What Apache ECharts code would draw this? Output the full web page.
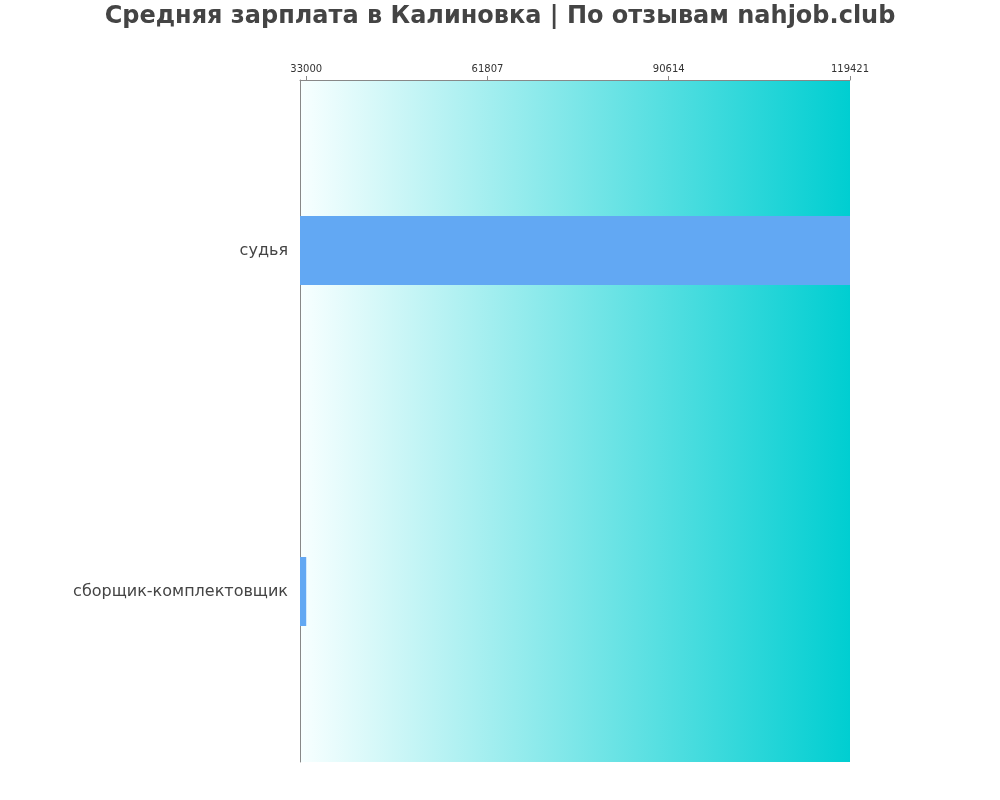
<!DOCTYPE html>
<html>
<head>
<meta charset="utf-8">
<script src="https://cdn.jsdelivr.net/npm/echarts@6/dist/echarts.min.js"></script>
<style>
  html, body { margin: 0; padding: 0; background: #fff; }
  #chart { width: 1000px; height: 800px; }
</style>
</head>
<body>
<div id="chart"></div>
<script>
var titleText = 'Средняя зарплата в Калиновка | По отзывам nahjob.club';
var professions = ['судья', 'сборщик-комплектовщик'];
var salaries = [119421, 33000];
var tickValues = [33000, 61807, 90614, 119421];
var axisMin = 32010;
var axisMax = 119421;

var chart = echarts.init(document.getElementById('chart'));

chart.setOption({
    animation: false,
    title: {
        text: titleText,
        left: 'center',
        top: 0,
        textStyle: {
            fontFamily: 'DejaVu Sans',
            fontSize: 24,
            fontWeight: 'bold',
            color: '#444'
        }
    },
    grid: {
        left: 300,
        right: 150,
        top: 80,
        bottom: 38,
        show: true,
        borderWidth: 0,
        backgroundColor: {
            type: 'linear', x: 0, y: 0, x2: 1, y2: 0,
            colorStops: [
                { offset: 0, color: '#f8ffff' },
                { offset: 1, color: '#00ced1' }
            ]
        }
    },
    xAxis: {
        type: 'value',
        position: 'top',
        min: axisMin,
        max: axisMax,
        splitLine: { show: false },
        axisLine: { show: true, lineStyle: { color: '#888' } },
        axisTick: { show: true, customValues: tickValues, length: 4, lineStyle: { color: '#888' } },
        axisLabel: {
            customValues: tickValues,
            formatter: function (v) { return String(v); },
            fontFamily: 'DejaVu Sans',
            fontSize: 10,
            color: '#333',
            margin: 6
        }
    },
    yAxis: {
        type: 'category',
        data: professions,
        inverse: true,
        axisLine: { show: true, lineStyle: { color: '#888' } },
        axisTick: { show: false },
        axisLabel: {
            fontFamily: 'DejaVu Sans',
            fontSize: 16,
            color: '#444',
            margin: 12,
            padding: [0, 0, 6, 0]
        }
    },
    series: [{
        type: 'bar',
        data: salaries,
        barWidth: 69,
        itemStyle: { color: '#62a8f3' }
    }]
});
</script>
</body>
</html>
